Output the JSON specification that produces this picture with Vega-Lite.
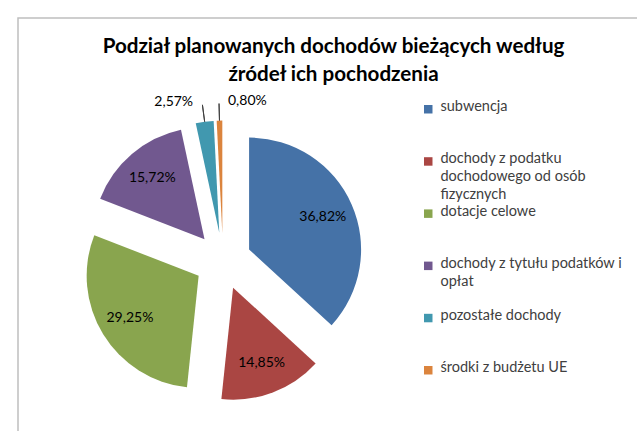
{
  "$schema": "https://vega.github.io/schema/vega-lite/v6.json",
  "width": 619,
  "height": 413,
  "autosize": {"type": "none"},
  "padding": {"left": 18, "top": 18, "right": 0, "bottom": 0},
  "background": "white",
  "view": {"stroke": "#bfbfbf", "strokeWidth": 1.5, "strokeDash": [619, 1032, 413], "fill": "white"},
  "config": {"font": "Lato"},
  "title": {
    "text": ["Podział planowanych dochodów bieżących według", "źródeł ich pochodzenia"],
    "font": "Lato",
    "fontSize": 20.6,
    "fontWeight": "bold",
    "color": "#000000",
    "lineHeight": 28,
    "anchor": "middle",
    "frame": "group",
    "dx": 6,
    "dy": 72
  },
  "data": {
    "values": [
      {"kategoria": "subwencja", "udzial": 36.82, "etykieta": "36,82%", "kolejnosc": 1},
      {"kategoria": "dochody z podatku dochodowego od osób fizycznych", "udzial": 14.85, "etykieta": "14,85%", "kolejnosc": 2},
      {"kategoria": "dotacje celowe", "udzial": 29.25, "etykieta": "29,25%", "kolejnosc": 3},
      {"kategoria": "dochody z tytułu podatków i opłat", "udzial": 15.72, "etykieta": "15,72%", "kolejnosc": 4},
      {"kategoria": "pozostałe dochody", "udzial": 2.57, "etykieta": "2,57%", "kolejnosc": 5},
      {"kategoria": "środki z budżetu UE", "udzial": 0.8, "etykieta": "0,80%", "kolejnosc": 6}
    ]
  },
  "layer": [
    {
      "mark": {
        "type": "arc",
        "radius": 112,
        "x": 205,
        "y": 243,
        "xOffset": {"expr": "28.5*sin(PI*(datum.udzial_start+datum.udzial_end)/100.01)"},
        "yOffset": {"expr": "-28.5*cos(PI*(datum.udzial_start+datum.udzial_end)/100.01)"}
      },
      "encoding": {
        "theta": {"field": "udzial", "type": "quantitative", "stack": true},
        "order": {"field": "kolejnosc", "type": "quantitative"},
        "color": {
          "field": "kategoria",
          "type": "nominal",
          "scale": {
            "domain": ["subwencja", "dochody z podatku dochodowego od osób fizycznych", "dotacje celowe", "dochody z tytułu podatków i opłat", "pozostałe dochody", "środki z budżetu UE"],
            "range": ["#4572A7", "#AA4643", "#89A54E", "#71588F", "#4198AF", "#DB843D"]
          },
          "legend": {
            "orient": "none",
            "legendX": 403,
            "legendY": 84,
            "title": null,
            "padding": 0,
            "symbolType": "square",
            "symbolSize": 72,
            "symbolStrokeWidth": 0,
            "symbolOffset": 0,
            "labelFont": "Lato",
            "labelFontSize": 14.5,
            "labelColor": "#404040",
            "labelBaseline": "top",
            "labelOffset": 5,
            "labelLimit": 300,
            "rowPadding": 1.2,
            "labelExpr": "datum.label == 'dochody z podatku dochodowego od osób fizycznych' ? ['dochody z podatku', 'dochodowego od osób', 'fizycznych'] : datum.label == 'dochody z tytułu podatków i opłat' ? ['dochody z tytułu podatków i', 'opłat', ''] : [datum.label, '', '']",
            "encode": {"labels": {"update": {"dy": {"value": -9}, "lineHeight": {"value": 18}}}}
          }
        }
      }
    },
    {
      "mark": {
        "type": "arc",
        "radius": 129,
        "radius2": 112,
        "padAngle": 3,
        "filled": false,
        "stroke": "#404040",
        "strokeWidth": 1,
        "x": 205,
        "y": 243,
        "xOffset": {"expr": "28.5*sin(PI*(datum.udzial_start+datum.udzial_end)/100.01)"},
        "yOffset": {"expr": "-28.5*cos(PI*(datum.udzial_start+datum.udzial_end)/100.01)"}
      },
      "encoding": {
        "theta": {"field": "udzial", "type": "quantitative", "stack": true},
        "order": {"field": "kolejnosc", "type": "quantitative"},
        "opacity": {"condition": {"test": "datum.udzial < 5", "value": 1}, "value": 0}
      }
    },
    {
      "mark": {
        "type": "text",
        "x": 205,
        "y": 243,
        "font": "Lato",
        "fontSize": 14,
        "color": "#000000",
        "radius": {"expr": "datum.udzial < 5 ? 160 : 109"},
        "align": {"expr": "datum.udzial < 1 ? 'left' : datum.udzial < 5 ? 'right' : 'center'"},
        "dx": {"expr": "datum.udzial < 1 ? 9 : datum.udzial < 5 ? -9 : 0"}
      },
      "encoding": {
        "theta": {"field": "udzial", "type": "quantitative", "stack": true},
        "order": {"field": "kolejnosc", "type": "quantitative"},
        "text": {"field": "etykieta", "type": "nominal"}
      }
    }
  ]
}
